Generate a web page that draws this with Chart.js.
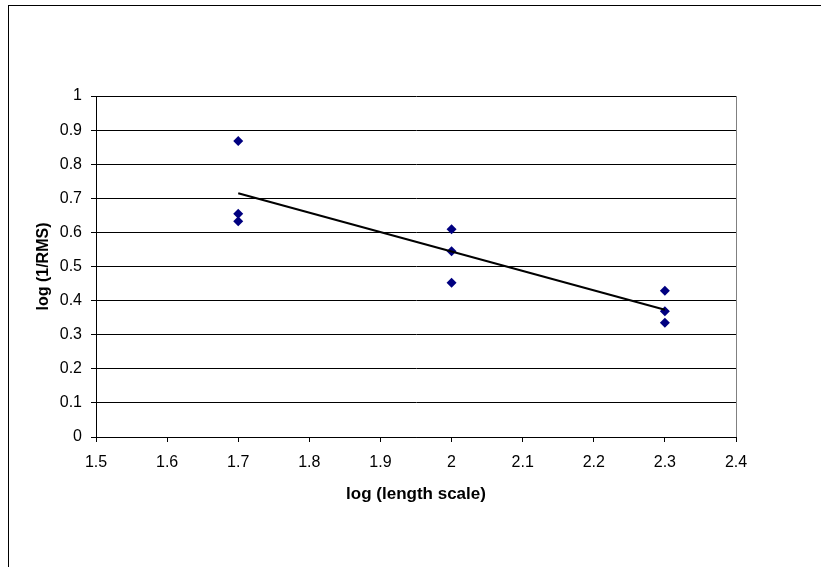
<!DOCTYPE html>
<html>
<head>
<meta charset="utf-8">
<script src="https://cdn.jsdelivr.net/npm/chart.js@4"></script>
<style>
  html, body { margin: 0; padding: 0; background: #fff; }
  #wrap { width: 821px; height: 567px; position: relative; }
</style>
</head>
<body>
<div id="wrap"><canvas id="chart" width="821" height="567"></canvas></div>
<script>
// ==================== DATA ====================
const xVals = [1.7, 1.7, 1.7, 2.0, 2.0, 2.0, 2.3, 2.3, 2.3];
const yVals = [0.868, 0.655, 0.633, 0.609, 0.545, 0.452, 0.429, 0.369, 0.335];
const trendX = [1.7, 2.3];
const trendY = [0.715, 0.373];
const xTitle = 'log (length scale)';
const yTitle = 'log (1/RMS)';

const points = xVals.map((x, i) => ({ x, y: yVals[i] }));
const trend = trendX.map((x, i) => ({ x, y: trendY[i] }));

const fam = "'Liberation Sans', Arial, sans-serif";
const tickFont = { family: fam, size: 16 };

// frame around plot area + outer chart border
const frames = {
  id: 'frames',
  afterDraw(chart) {
    const { ctx, chartArea: a } = chart;
    ctx.save();
    ctx.strokeStyle = '#808080';
    ctx.lineWidth = 1;
    ctx.beginPath();
    ctx.moveTo(Math.round(a.right) + 0.5, a.top);
    ctx.lineTo(Math.round(a.right) + 0.5, a.bottom);
    ctx.stroke();
    ctx.strokeStyle = '#000';
    ctx.strokeRect(8.5, 5.5, 1000, 1000);
    ctx.restore();
  }
};

new Chart(document.getElementById('chart').getContext('2d'), {
  type: 'scatter',
  data: {
    datasets: [
      {
        data: points,
        pointStyle: 'rectRot',
        pointRadius: 5,
        backgroundColor: '#000080',
        borderColor: '#000080',
        borderWidth: 0,
        order: 2
      },
      {
        type: 'line',
        data: trend,
        borderColor: '#000',
        borderWidth: 2,
        pointRadius: 0,
        fill: false,
        order: 1
      }
    ]
  },
  options: {
    responsive: false,
    animation: false,
    layout: { padding: { left: 10, top: 96, right: 85, bottom: 62 } },
    plugins: { legend: { display: false }, tooltip: { enabled: false } },
    scales: {
      x: {
        type: 'linear',
        min: 1.5, max: 2.4,
        afterFit: s => { s.height = 68; },
        ticks: {
          stepSize: 0.1, color: '#000', font: tickFont, padding: 11,
          callback: v => String(+v.toFixed(1))
        },
        grid: { drawOnChartArea: false, drawTicks: true, tickLength: 5, color: '#000' },
        border: { color: '#000' },
        title: { display: true, text: xTitle, color: '#000', font: { family: fam, size: 17, weight: 'bold' }, padding: 0 }
      },
      y: {
        min: 0, max: 1,
        afterFit: s => { s.width = 86; },
        ticks: {
          stepSize: 0.1, color: '#000', font: tickFont, padding: 9,
          callback: v => String(+v.toFixed(1))
        },
        grid: { color: '#000', tickLength: 5 },
        border: { color: '#000' },
        title: { display: true, text: yTitle, color: '#000', font: { family: fam, size: 16, weight: 'bold' }, padding: { top: 24, bottom: 0 } }
      }
    }
  },
  plugins: [frames]
});
</script>
</body>
</html>
